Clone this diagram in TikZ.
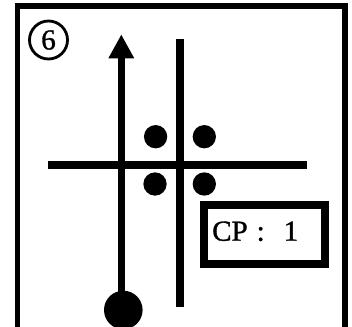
\documentclass[tikz,border=0pt]{standalone}
\usepackage{fontspec}
\setmainfont{Liberation Serif}
\newfontfamily\heavyserif[FakeBold=1.2]{Liberation Serif}
\usetikzlibrary{arrows.meta}
\begin{document}
\begin{tikzpicture}[x=1pt,y=-1pt,
  bar/.style={line width=7.5pt},
  blob/.style={circle, fill=black, inner sep=0pt, minimum size=#1},
  frame/.style={line width=5.5pt},
  cpbox/.style={draw, line width=8pt, minimum width=121pt, minimum height=59pt, inner sep=0pt},
  numcirc/.style={circle, draw, line width=2.8pt, minimum size=38pt, inner sep=0pt, font=\heavyserif\fontsize{29}{29}\selectfont}
]
\useasboundingbox (0,0) rectangle (352,326);
\clip (0,0) rectangle (352,326);
\fill[white] (0,0) rectangle (352,326);
\draw[frame] (17.3,6.2) rectangle (345,345);
% circled number
\node[numcirc] (num) at (48.5,40) {6};
% crossing lines
\coordinate (hl) at (48,165);
\coordinate (hr) at (307.3,165);
\coordinate (vt) at (180,39.3);
\coordinate (vb) at (180,307.3);
\draw[bar] (hl) -- (hr);
\draw[bar] (vt) -- (vb);
% four dots
\node[blob=23.3pt] (d1) at (155.6,136.7) {};
\node[blob=23.3pt] (d2) at (204.3,136.7) {};
\node[blob=23.3pt] (d3) at (155,184) {};
\node[blob=23.3pt] (d4) at (204.3,184) {};
% arrow with start dot
\node[blob=38.6pt] (start) at (123.3,310) {};
\coordinate (tip) at (121.3,34.3);
\draw[bar, -{Triangle[length=24pt, width=24pt]}] (tip |- start) -- (tip);
% CP box
\node[cpbox] (cp) at (264,234.7) {};
\node[anchor=base west, inner sep=0pt, font=\heavyserif\fontsize{29}{29}\selectfont] (cptext) at (212,240.7) {CP\hspace{9pt}:\hspace{19pt}1};
\end{tikzpicture}
\end{document}
